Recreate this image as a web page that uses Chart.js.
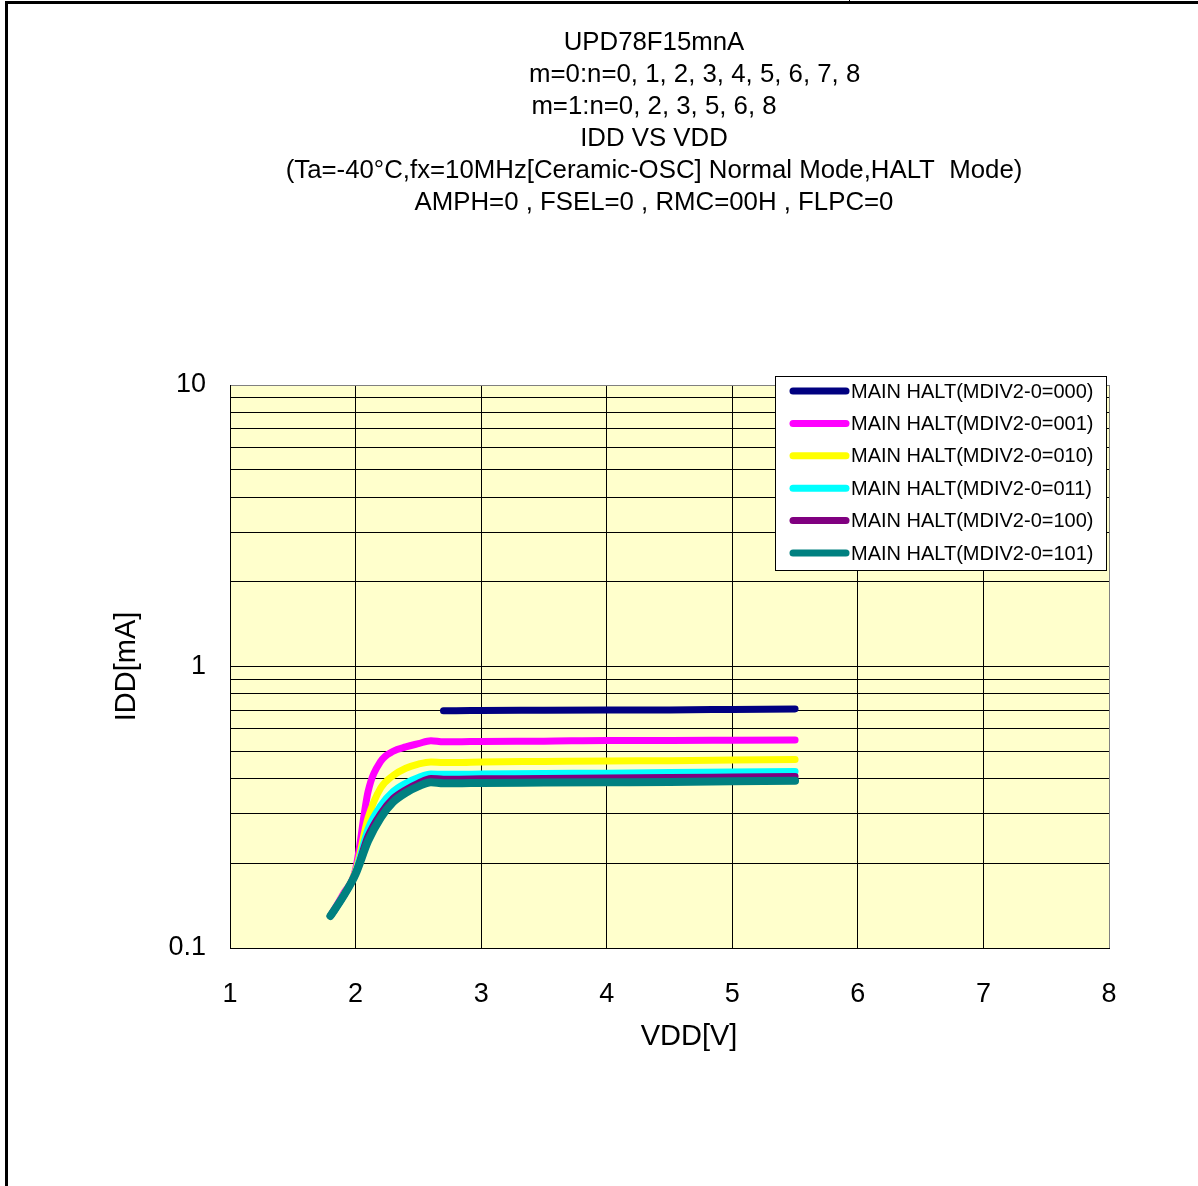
<!DOCTYPE html>
<html>
<head>
<meta charset="utf-8">
<script src="https://cdn.jsdelivr.net/npm/chart.js@4.4.1/dist/chart.umd.min.js"></script>
<style>
  html, body { margin: 0; padding: 0; background: #fff; }
  #wrap { width: 1198px; height: 1186px; }
</style>
</head>
<body>
<div id="wrap"><canvas id="myChart" width="1198" height="1186"></canvas></div>
<script>
var titleLines = [
  "UPD78F15mnA",
  "m=0:n=0, 1, 2, 3, 4, 5, 6, 7, 8",
  "m=1:n=0, 2, 3, 5, 6, 8",
  "IDD VS VDD",
  "(Ta=-40\u00b0C,fx=10MHz[Ceramic-OSC] Normal Mode,HALT  Mode)",
  "AMPH=0 , FSEL=0 , RMC=00H , FLPC=0"
];

var vdd = [1.8, 1.9, 2.0, 2.1, 2.2, 2.3, 2.4, 2.5, 2.6, 2.7, 2.8, 3.0, 3.5, 4.0, 4.5, 5.0, 5.5];

var halt000 = [null, null, null, null, null, null, null, null, null, 0.697, 0.697, 0.698, 0.699, 0.700, 0.701, 0.704, 0.707];
var halt001 = [0.130, 0.155, 0.190, 0.360, 0.460, 0.500, 0.518, 0.532, 0.545, 0.540, 0.540, 0.542, 0.543, 0.546, 0.546, 0.547, 0.548];
var halt010 = [0.130, 0.153, 0.187, 0.290, 0.370, 0.410, 0.435, 0.450, 0.458, 0.456, 0.456, 0.458, 0.460, 0.462, 0.463, 0.465, 0.467];
var halt011 = [0.130, 0.152, 0.185, 0.265, 0.320, 0.360, 0.385, 0.403, 0.415, 0.414, 0.414, 0.415, 0.417, 0.418, 0.420, 0.422, 0.424];
var halt100 = [0.130, 0.152, 0.184, 0.250, 0.300, 0.340, 0.365, 0.385, 0.400, 0.398, 0.398, 0.399, 0.400, 0.402, 0.403, 0.405, 0.407];
var halt101 = [0.130, 0.152, 0.183, 0.240, 0.290, 0.330, 0.356, 0.375, 0.388, 0.385, 0.385, 0.386, 0.387, 0.388, 0.389, 0.391, 0.393];

var seriesLabels = [
  "MAIN HALT(MDIV2-0=000)",
  "MAIN HALT(MDIV2-0=001)",
  "MAIN HALT(MDIV2-0=010)",
  "MAIN HALT(MDIV2-0=011)",
  "MAIN HALT(MDIV2-0=100)",
  "MAIN HALT(MDIV2-0=101)"
];
var seriesValues = [halt000, halt001, halt010, halt011, halt100, halt101];
var seriesColors = ["#000080", "#ff00ff", "#ffff00", "#00ffff", "#800080", "#008080"];

var FONT = "'Liberation Sans', Arial, sans-serif";

function toPoints(values) {
  var pts = [];
  for (var i = 0; i < vdd.length; i++) {
    if (values[i] !== null) pts.push({ x: vdd[i], y: values[i] });
  }
  return pts;
}

var datasets = seriesValues.map(function (vals, i) {
  return {
    label: seriesLabels[i],
    data: toPoints(vals),
    borderColor: seriesColors[i],
    backgroundColor: seriesColors[i],
    borderWidth: i === 5 ? 8 : 7,
    borderCapStyle: 'round',
    borderJoinStyle: 'round',
    pointRadius: 0,
    cubicInterpolationMode: 'monotone',
    fill: false,
    order: 5 - i
  };
});

// page frame, title text, plot background, x axis title and the boxed legend
var decor = {
  id: 'decor',
  beforeDraw: function (chart) {
    var c = chart.ctx, a = chart.chartArea;
    c.save();
    c.fillStyle = '#fff';
    c.fillRect(0, 0, chart.width, chart.height);
    c.fillStyle = '#ffffcc';
    c.fillRect(a.left, a.top, a.right - a.left, a.bottom - a.top);
    c.fillStyle = '#000';
    c.fillRect(5, 1, 1193, 3);
    c.fillRect(5, 1, 3, 1185);
    c.fillRect(849, 0, 1, 2);

    c.font = '25.8px ' + FONT;
    c.textBaseline = 'middle';
    var ys = [43, 75, 107, 139, 171, 203];
    for (var i = 0; i < titleLines.length; i++) {
      if (i === 1) {
        c.textAlign = 'left';
        c.fillText(titleLines[i], 529, ys[i]);
      } else {
        c.textAlign = 'center';
        c.fillText(titleLines[i], 654, ys[i]);
      }
    }

    c.font = '29px ' + FONT;
    c.textAlign = 'center';
    c.fillText('VDD[V]', 689, 1037);
    c.restore();
  },
  afterDraw: function (chart) {
    var c = chart.ctx;
    var bx = 775, by = 376, bw = 331, bh = 194;
    c.save();
    c.fillStyle = '#fff';
    c.fillRect(bx, by, bw, bh);
    c.strokeStyle = '#000';
    c.lineWidth = 1;
    c.strokeRect(bx + 0.5, by + 0.5, bw, bh);
    c.font = '20px ' + FONT;
    c.textAlign = 'left';
    c.textBaseline = 'middle';
    chart.data.datasets.forEach(function (ds, i) {
      var y = 391 + i * 32.4;
      c.strokeStyle = ds.borderColor;
      c.lineWidth = 7;
      c.lineCap = 'round';
      c.beginPath();
      c.moveTo(793, y);
      c.lineTo(846, y);
      c.stroke();
      c.fillStyle = '#000';
      c.fillText(ds.label, 851, y + 1);
    });
    c.restore();
  }
};

new Chart(document.getElementById("myChart"), {
  type: 'line',
  data: { datasets: datasets },
  options: {
    responsive: false,
    animation: false,
    layout: { padding: { left: 106, right: 89, top: 385, bottom: 127 } },
    plugins: {
      legend: { display: false },
      title: { display: false },
      tooltip: { enabled: false }
    },
    scales: {
      x: {
        type: 'linear',
        min: 1,
        max: 8,
        afterFit: function (s) { s.height = 111; },
        ticks: {
          stepSize: 1,
          padding: 30,
          color: '#000',
          font: { family: FONT, size: 27 }
        },
        grid: {
          drawTicks: false,
          color: function (ctx) { return ctx.tick && ctx.tick.value === 8 ? '#808080' : '#000'; },
          lineWidth: 1
        },
        border: { color: '#000', width: 1 }
      },
      y: {
        type: 'logarithmic',
        min: 0.1,
        max: 10,
        afterFit: function (s) { s.width = 124; },
        afterBuildTicks: function (s) {
          var t = [];
          [0.1, 1].forEach(function (d) {
            for (var k = 1; k <= 9; k++) t.push({ value: +(k * d).toFixed(2) });
          });
          t.push({ value: 10 });
          s.ticks = t;
        },
        ticks: {
          autoSkip: false,
          padding: 24,
          color: '#000',
          font: { family: FONT, size: 27 },
          callback: function (v) {
            var l = Math.log10(v);
            if (Math.abs(l - Math.round(l)) > 1e-6) return '';
            return v >= 1 ? String(Math.round(v)) : '0.1';
          }
        },
        grid: {
          drawTicks: false,
          color: function (ctx) { return ctx.tick && ctx.tick.value === 10 ? '#808080' : '#000'; },
          lineWidth: 1
        },
        border: { color: '#000', width: 1 },
        title: {
          display: true,
          text: 'IDD[mA]',
          color: '#000',
          font: { family: FONT, size: 29 }
        }
      }
    }
  },
  plugins: [decor]
});
</script>
</body>
</html>
